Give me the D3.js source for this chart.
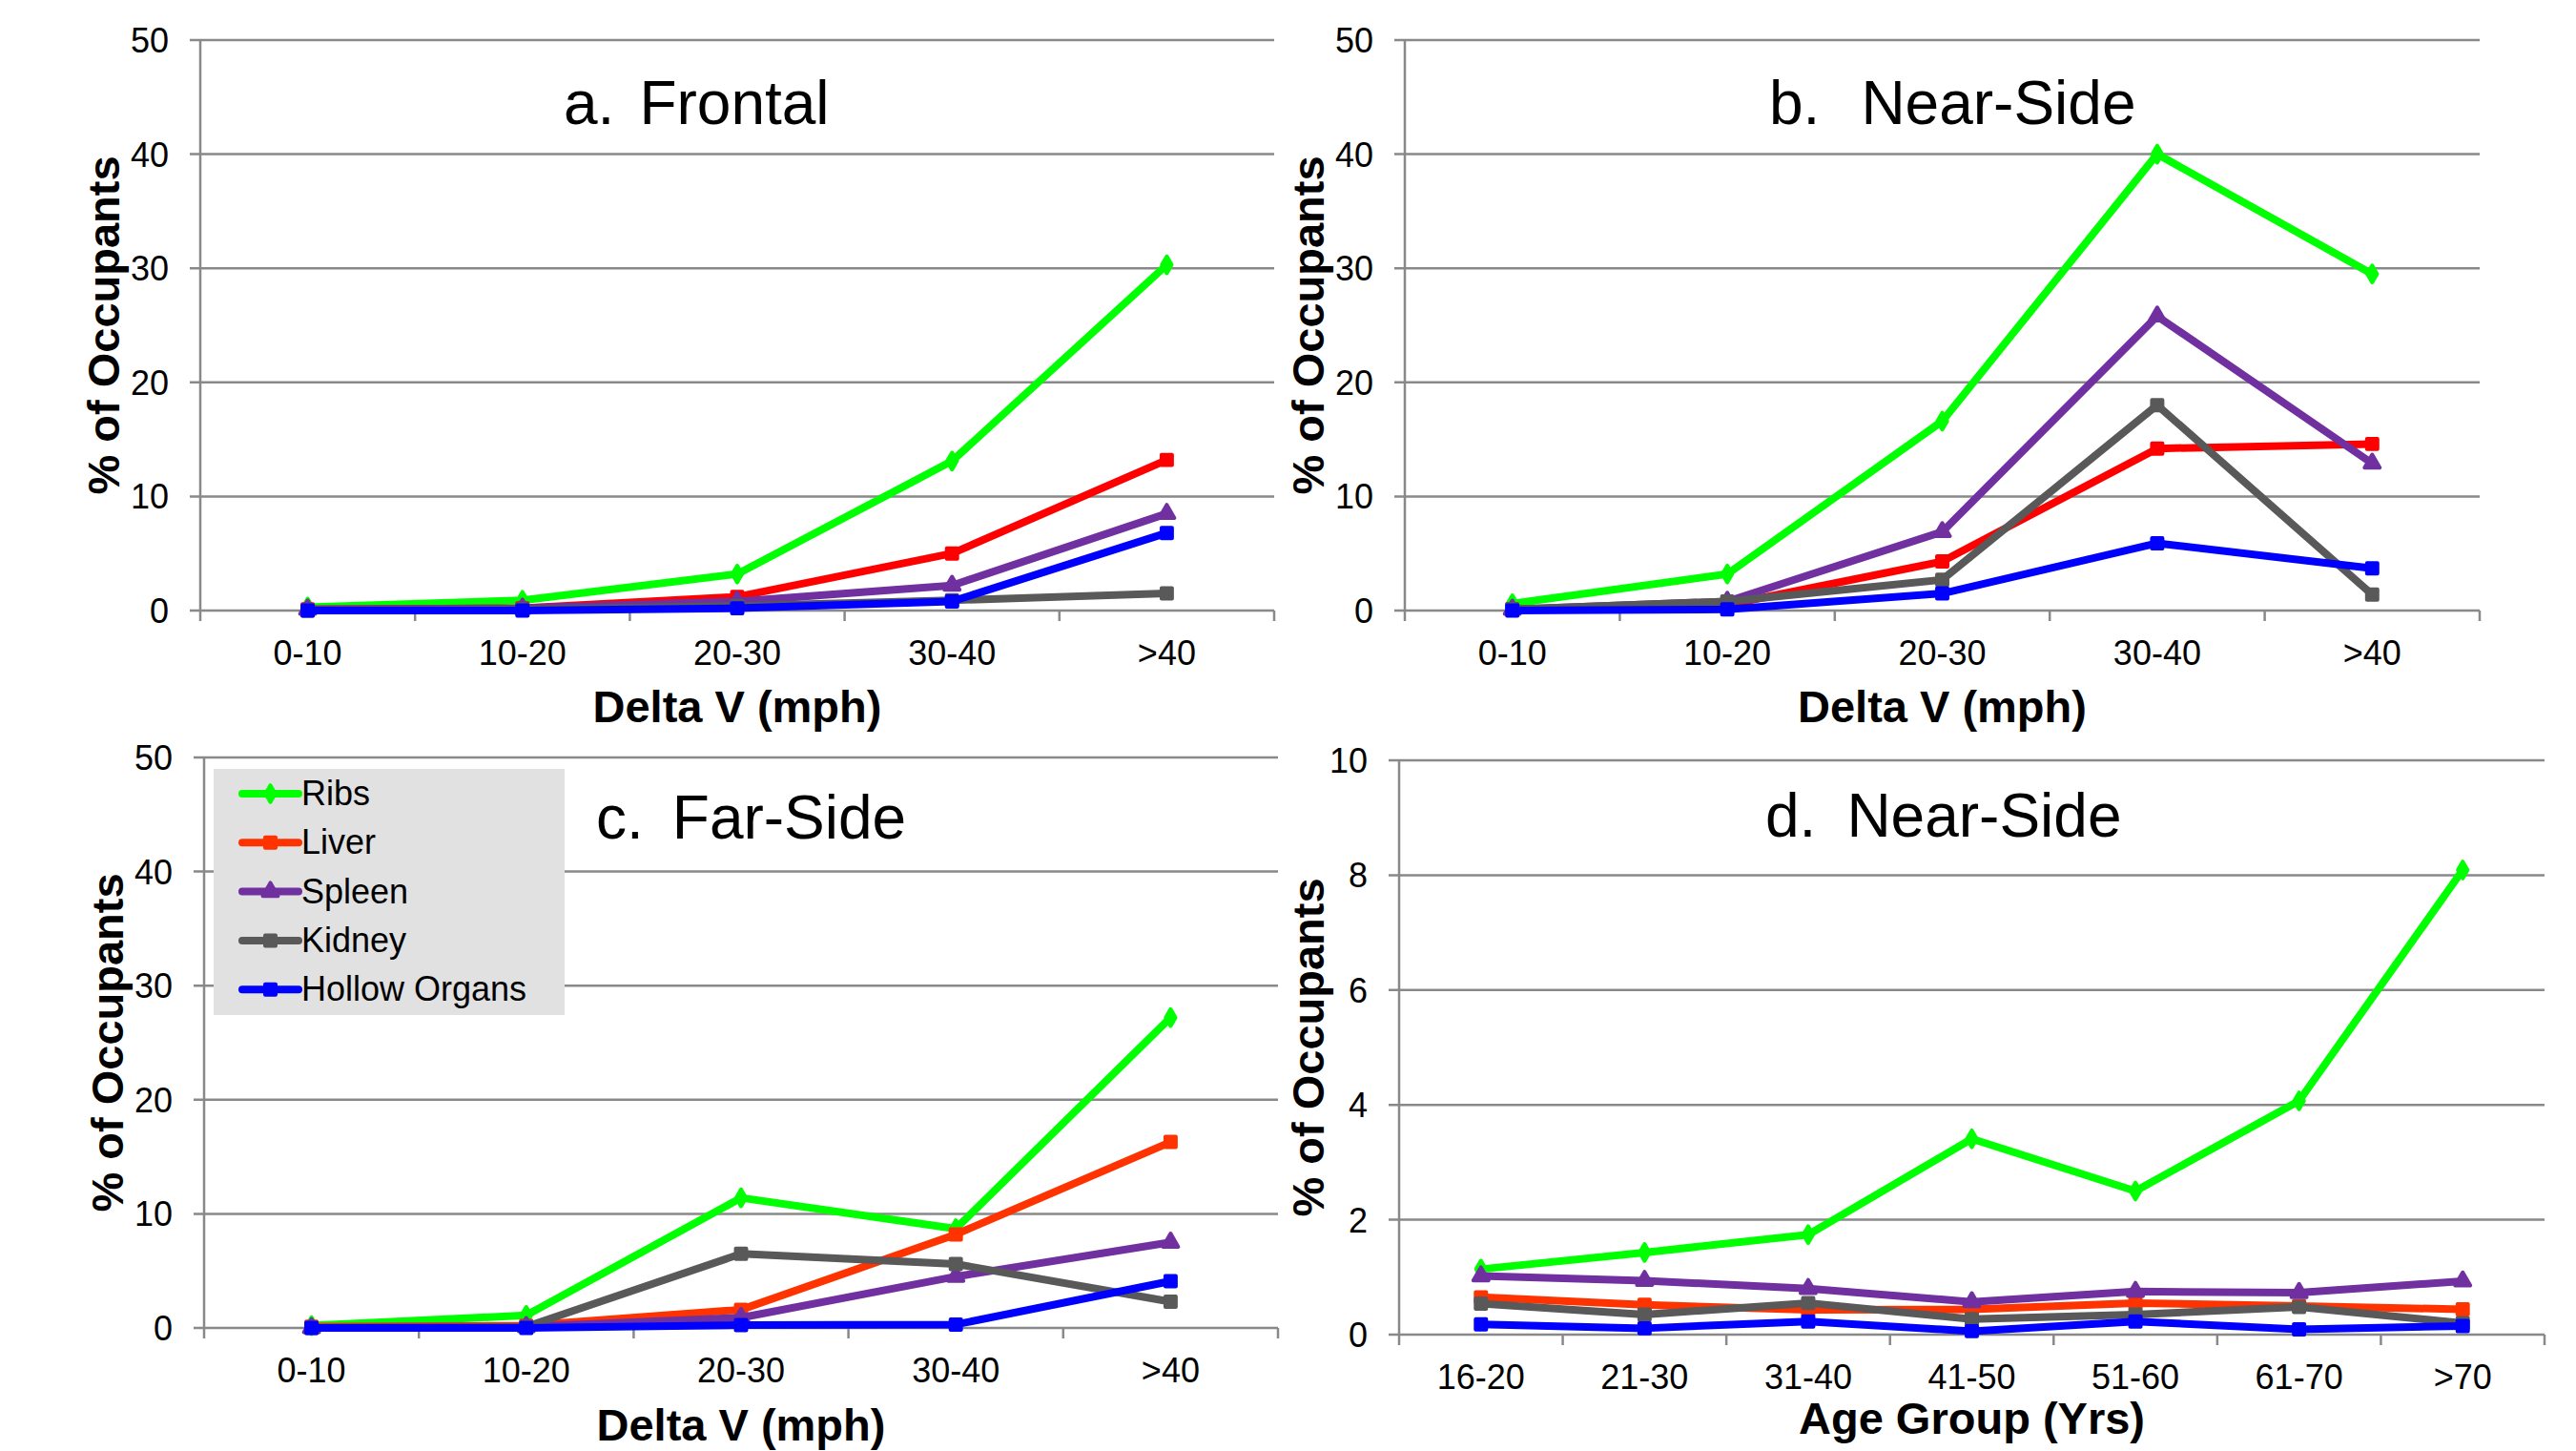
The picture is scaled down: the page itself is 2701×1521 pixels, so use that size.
<!DOCTYPE html>
<html>
<head>
<meta charset="utf-8">
<script src="https://cdn.jsdelivr.net/npm/d3@7"></script>
<style>
  body { margin: 0; background: #fff; }
  svg { display: block; font-family: "Liberation Sans", Arial, sans-serif; }
</style>
</head>
<body>
<div id="viz"></div>
<script>
// categories
const deltaV = ['0-10', '10-20', '20-30', '30-40', '>40']
const ageGroups = ['16-20', '21-30', '31-40', '41-50', '51-60', '61-70', '>70']
const seriesNames = ['Ribs', 'Liver', 'Spleen', 'Kidney', 'Hollow Organs']

// values, one row per series (Ribs, Liver, Spleen, Kidney, Hollow Organs)
const frontal = [
  [0.3, 0.9, 3.2, 13.1, 30.3],
  [0.1, 0.2, 1.2, 5.0, 13.2],
  [0.1, 0.2, 0.8, 2.2, 8.5],
  [0.0, 0.1, 0.4, 0.9, 1.5],
  [0.0, 0.0, 0.2, 0.8, 6.8]
]
const nearSide = [
  [0.6, 3.2, 16.6, 40.0, 29.5],
  [0.1, 0.5, 4.3, 14.2, 14.6],
  [0.1, 0.8, 6.9, 25.8, 12.9],
  [0.1, 0.8, 2.7, 18.0, 1.4],
  [0.0, 0.1, 1.5, 5.9, 3.7]
]
const farSide = [
  [0.2, 1.1, 11.4, 8.7, 27.2],
  [0.1, 0.2, 1.6, 8.2, 16.3],
  [0.0, 0.1, 0.9, 4.5, 7.5],
  [0.0, 0.1, 6.5, 5.6, 2.3],
  [0.0, 0.0, 0.25, 0.3, 4.1]
]
const nearSideAge = [
  [1.14, 1.43, 1.74, 3.41, 2.50, 4.07, 8.09],
  [0.65, 0.52, 0.43, 0.44, 0.55, 0.50, 0.44],
  [1.02, 0.94, 0.80, 0.57, 0.75, 0.73, 0.93],
  [0.54, 0.35, 0.55, 0.27, 0.35, 0.48, 0.20],
  [0.18, 0.11, 0.23, 0.06, 0.23, 0.09, 0.15]
]

const colors = ['#00ff00', '#ff0000', '#7030a0', '#595959', '#0000ff']
const symbols = [d3.symbolDiamond, d3.symbolSquare, d3.symbolTriangle, d3.symbolSquare, d3.symbolSquare]
const gridColor = '#898989'

var svg = d3
  .select('#viz')
  .append('svg')
  .attr('width', 2701)
  .attr('height', 1521)

svg.append('rect').attr('width', 2701).attr('height', 1521).attr('fill', '#fff')

var panels = [
  { tag: 'a.', name: 'Frontal', gap: 26, tx: 591, ty: 130, cats: deltaV, values: frontal, yMax: 50, yStep: 10,
    left: 210, right: 1336, top: 42, bottom: 640, xTitle: 'Delta V (mph)', xtOff: 117, ytOff: 85, liver: '#ff0000' },
  { tag: 'b.', name: 'Near-Side', gap: 43, tx: 1855, ty: 130, cats: deltaV, values: nearSide, yMax: 50, yStep: 10,
    left: 1473, right: 2600, top: 42, bottom: 640, xTitle: 'Delta V (mph)', xtOff: 117, ytOff: 85, liver: '#ff0000' },
  { tag: 'c.', name: 'Far-Side', gap: 30, tx: 625, ty: 879, cats: deltaV, values: farSide, yMax: 50, yStep: 10,
    left: 214, right: 1340, top: 794, bottom: 1392, xTitle: 'Delta V (mph)', xtOff: 118, ytOff: 85, liver: '#ff3300', legend: true },
  { tag: 'd.', name: 'Near-Side', gap: 32, tx: 1851, ty: 877, cats: ageGroups, values: nearSideAge, yMax: 10, yStep: 2,
    left: 1467, right: 2668, top: 797, bottom: 1399, xTitle: 'Age Group (Yrs)', xtOff: 104, ytOff: 79, liver: '#ff3300' }
]

function drawMarker(g, i, cx, cy, color) {
  var size = i === 0 ? 90 : i === 2 ? 110 : 120
  g.append('path')
    .attr('d', d3.symbol().type(symbols[i]).size(size))
    .attr('transform', 'translate(' + cx + ',' + cy + ')')
    .attr('fill', color)
    .attr('stroke', color)
    .attr('stroke-width', 4)
    .attr('stroke-linejoin', 'round')
}

panels.forEach(function(p) {
  var g = svg.append('g')
  var x = d3.scaleBand().domain(p.cats).range([p.left, p.right])
  var y = d3.scaleLinear().domain([0, p.yMax]).range([p.bottom, p.top])
  var ticks = d3.range(0, p.yMax + 0.001, p.yStep)
  var col = colors.slice()
  col[1] = p.liver

  // gridlines + y ticks
  g.selectAll('.grid')
    .data(ticks)
    .enter()
    .append('line')
    .attr('x1', p.left - 11)
    .attr('x2', p.right)
    .attr('y1', d => y(d))
    .attr('y2', d => y(d))
    .attr('stroke', gridColor)
    .attr('stroke-width', 2.5)

  // y axis line
  g.append('line')
    .attr('x1', p.left).attr('x2', p.left)
    .attr('y1', p.top).attr('y2', p.bottom + 11)
    .attr('stroke', gridColor).attr('stroke-width', 2.5)

  // x ticks at band edges
  var edges = p.cats.map(c => x(c)).concat([p.right])
  g.selectAll('.xt')
    .data(edges.slice(1))
    .enter()
    .append('line')
    .attr('x1', d => d).attr('x2', d => d)
    .attr('y1', p.bottom).attr('y2', p.bottom + 11)
    .attr('stroke', gridColor).attr('stroke-width', 2.5)

  // y tick labels
  g.selectAll('.yl')
    .data(ticks)
    .enter()
    .append('text')
    .attr('x', p.left - 33)
    .attr('y', d => y(d))
    .attr('dy', '0.36em')
    .attr('text-anchor', 'end')
    .attr('font-size', 36)
    .text(d => d)

  // x tick labels
  g.selectAll('.xl')
    .data(p.cats)
    .enter()
    .append('text')
    .attr('x', d => x(d) + x.bandwidth() / 2)
    .attr('y', p.bottom + 57)
    .attr('text-anchor', 'middle')
    .attr('font-size', 36)
    .text(d => d)

  // axis titles
  g.append('text')
    .attr('x', (p.left + p.right) / 2)
    .attr('y', p.bottom + p.xtOff)
    .attr('text-anchor', 'middle')
    .attr('font-size', 47)
    .attr('font-weight', 'bold')
    .text(p.xTitle)

  g.append('text')
    .attr('transform', 'translate(' + (p.left - p.ytOff) + ',' + (p.top + p.bottom) / 2 + ')rotate(-90)')
    .attr('text-anchor', 'middle')
    .attr('font-size', 47)
    .attr('font-weight', 'bold')
    .text('% of Occupants')

  // panel title
  var t = g.append('text')
    .attr('x', p.tx)
    .attr('y', p.ty)
    .attr('font-size', 64)
  t.append('tspan').text(p.tag)
  t.append('tspan').attr('dx', p.gap).text(p.name)

  // legend (drawn over the gridlines)
  if (p.legend) {
    var lg = g.append('g')
    lg.append('rect')
      .attr('x', 224).attr('y', 806)
      .attr('width', 368).attr('height', 258)
      .attr('fill', '#e1e1e1')
    seriesNames.forEach(function(name, i) {
      var ly = 832 + i * 51.3
      lg.append('line')
        .attr('x1', 254).attr('x2', 313)
        .attr('y1', ly).attr('y2', ly)
        .attr('stroke', col[i]).attr('stroke-width', 8)
        .attr('stroke-linecap', 'round')
      drawMarker(lg, i, 283.5, ly, col[i])
      lg.append('text')
        .attr('x', 316).attr('y', ly + 12)
        .attr('font-size', 36)
        .text(name)
    })
  }

  // series lines and markers
  var line = d3.line()
    .x((d, j) => x(p.cats[j]) + x.bandwidth() / 2)
    .y(d => y(d))

  p.values.forEach(function(vals, i) {
    g.append('path')
      .attr('d', line(vals))
      .attr('fill', 'none')
      .attr('stroke', col[i])
      .attr('stroke-width', 8)
      .attr('stroke-linejoin', 'round')
    vals.forEach(function(v, j) {
      drawMarker(g, i, x(p.cats[j]) + x.bandwidth() / 2, y(v), col[i])
    })
  })
})
</script>
</body>
</html>
